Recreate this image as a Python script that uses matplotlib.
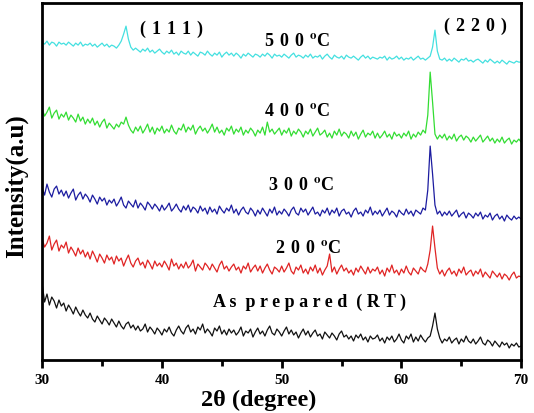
import numpy as np
import matplotlib
matplotlib.use("Agg")
import matplotlib.pyplot as plt

# 2theta grid, 0.2 deg step from 30 to 70
two_theta = np.linspace(30, 70, 201)

rt = [76, 58, 66, 55, 63, 59, 52, 60, 54, 57,
      49, 55, 51, 46, 53, 48, 44, 50, 45, 42,
      47, 41, 38, 44, 40, 36, 42, 39, 35, 41,
      37, 33, 39, 34, 31, 36, 38, 32, 35, 30,
      34, 29, 31, 36, 28, 33, 30, 26, 32, 29,
      25, 31, 28, 33, 27, 24, 30, 34, 29, 26,
      32, 35, 28, 31, 26, 33, 30, 36, 27, 31,
      28, 24, 32, 29, 34, 26, 30, 25, 31, 27,
      30, 25, 28, 33, 24, 29, 27, 31, 23, 28,
      32, 26, 29, 24, 30, 34, 27, 25, 31, 28,
      24, 29, 33, 26, 30, 25, 28, 22, 27, 31,
      25, 29, 23, 27, 30, 24, 26, 21, 28, 25,
      22, 27, 24, 20, 26, 29, 23, 25, 21, 24,
      19, 25, 22, 26, 20, 23, 18, 24, 21, 22,
      25, 19, 22, 17, 23, 20, 24, 18, 21, 26,
      20, 17, 24, 21, 26, 18, 23, 19, 25, 21,
      18, 22, 24, 34, 47, 31, 22, 17, 21, 19,
      23, 17, 20, 22, 16, 21, 18, 24, 19, 17,
      21, 16, 19, 23, 17, 15, 20, 18, 14, 19,
      16, 13, 18, 15, 17, 12, 16, 14, 17, 13,
      14]

t200 = [121, 113, 117, 124, 110, 116, 120, 109, 115, 112,
        118, 107, 113, 109, 104, 112, 106, 110, 103, 108,
        101, 109, 104, 98, 106, 102, 97, 105, 100, 103,
        96, 104, 99, 102, 94, 100, 105, 97, 93, 99,
        102, 95, 98, 92, 100, 96, 91, 99, 94, 97,
        93, 99, 95, 90, 101, 94, 97, 91, 96, 92,
        98, 92, 95, 100, 89, 96, 93, 90, 97, 94,
        90, 96, 92, 88, 95, 99, 91, 94, 89, 93,
        96, 90, 93, 87, 94, 91, 97, 88, 92, 95,
        89, 94, 87, 92, 96, 90, 86, 93, 91, 88,
        94, 88, 92, 97, 89, 86, 93, 90, 95, 87,
        91, 86, 93, 89, 95, 87, 92, 85, 90, 94,
        106, 88, 93, 86, 91, 95, 89, 92, 87, 90,
        85, 92, 88, 94, 90, 86, 93, 87, 91, 89,
        93, 86, 90, 84, 92, 88, 95, 87, 90, 85,
        91, 87, 94, 88, 85, 92, 89, 86, 93, 90,
        88, 96, 110, 134, 112, 92, 86, 90, 84, 89,
        92, 86, 89, 84, 91, 87, 93, 85, 88, 90,
        84, 89, 86, 91, 83, 88, 85, 82, 89, 86,
        83, 87, 81, 86, 84, 80, 85, 88, 82, 84,
        83]

t300 = [172, 165, 176, 168, 163, 171, 174, 166, 170, 164,
        169, 162, 167, 171, 160, 165, 168, 161, 166, 163,
        158, 165, 161, 156, 163, 159, 162, 155, 160, 157,
        161, 154, 158, 163, 155, 152, 159, 156, 153, 160,
        152, 157, 154, 150, 158, 155, 151, 156, 153, 149,
        155, 150, 153, 157, 149, 152, 156, 151, 148, 154,
        150, 155, 148, 153, 151, 147, 154, 149, 152, 146,
        153, 148, 151, 146, 154, 150, 147, 152, 149, 155,
        147, 151, 145, 150, 153, 148, 146, 152, 149, 144,
        150, 146, 152, 148, 144, 151, 147, 153, 145, 149,
        146, 151, 148, 144, 150, 153, 147, 145, 152, 148,
        151, 145, 149, 153, 146, 148, 144, 150, 147, 152,
        145, 150, 147, 152, 144, 149, 151, 146, 148, 143,
        149, 152, 146, 148, 144, 150, 147, 153, 145, 149,
        146, 150, 144, 148, 152, 145, 149, 147, 143, 150,
        147, 145, 151, 146, 149, 144, 150, 148, 146, 152,
        150, 170, 214, 186, 155, 146, 149, 144, 148, 145,
        149, 144, 147, 150, 143, 146, 148, 142, 147, 145,
        142, 147, 144, 148, 141, 145, 143, 147, 140, 144,
        146, 141, 144, 139, 145, 142, 140, 144, 141, 143,
        141]

t400 = [251, 244, 248, 253, 242, 247, 250, 241, 246, 243,
        248, 240, 245, 242, 238, 246, 239, 243, 236, 241,
        237, 242, 235, 239, 233, 238, 241, 232, 237, 234,
        231, 236, 233, 238, 236, 243, 235, 230, 227, 233,
        229, 234, 227, 231, 236, 228, 233, 226, 232, 229,
        234, 227, 231, 228, 235, 229, 226, 232, 230, 236,
        228, 233, 230, 235, 226, 231, 234, 229, 232, 227,
        231, 236, 228, 233, 227, 230, 225, 232, 229, 234,
        226, 231, 228, 233, 225, 230, 227, 232, 229, 224,
        230, 227, 233, 225, 238, 228, 231, 226, 229, 232,
        225, 230, 227, 232, 224, 229, 226, 231, 228, 223,
        229, 226, 231, 224, 228, 232, 225, 227, 230, 223,
        227, 222, 229, 225, 231, 224, 228, 226, 222, 229,
        224, 228, 221, 226, 230, 223, 227, 225, 229, 222,
        227, 222, 225, 229, 223, 226, 221, 228, 224, 226,
        222, 227, 224, 229, 221, 226, 223, 228, 225, 230,
        227, 245, 288, 258, 226, 221, 225, 222, 226, 220,
        224, 221, 226, 219, 223, 225, 220, 224, 222, 218,
        223, 219, 222, 225, 218, 221, 224, 219, 222, 217,
        221, 218, 223, 217, 220, 222, 216, 220, 218, 221,
        218]

t500 = [318, 316, 319, 315, 318, 317, 314, 318, 316, 317,
        315, 318, 316, 314, 317, 315, 318, 314, 316, 315,
        317, 314, 316, 313, 315, 317, 314, 316, 313, 315,
        314, 312, 315, 319, 326, 334, 321, 313, 310, 312,
        310, 308, 311, 309, 312, 308, 310, 307, 309, 311,
        308, 306, 309, 307, 310, 306, 308, 305, 309, 307,
        306, 309, 305, 308, 306, 304, 308, 307, 305, 309,
        306, 304, 307, 305, 308, 303, 306, 308, 305, 307,
        304, 307, 305, 302, 306, 304, 307, 305, 303, 306,
        305, 303, 306, 304, 307, 305, 302, 306, 304, 305,
        303, 306, 304, 302, 305, 307, 303, 305, 304, 302,
        305, 303, 306, 302, 304, 303, 305, 301, 304, 306,
        303, 301, 305, 303, 302, 304, 301, 305, 303, 302,
        304, 302, 300, 303, 305, 302, 304, 301, 303, 302,
        301, 303, 302, 304, 300, 303, 301, 302, 304, 301,
        303, 300, 302, 301, 303, 300, 302, 304, 301, 302,
        300, 302, 304, 313, 330, 309, 301, 300, 302, 299,
        301, 299, 302, 300, 298, 301, 300, 302, 299, 300,
        298, 300, 301, 299, 297, 300, 298, 301, 299, 297,
        299, 297, 300, 298, 296, 299, 298, 297, 299, 298,
        298]

series = [rt, t200, t300, t400, t500]
colors = ['#111111', '#e02424', '#1c1ca0', '#33dd33', '#44e0e0']
temps = ['200', '300', '400', '500']


def spaced(s):
    return '\u2004'.join(s)


plt.rcParams['font.family'] = ['Liberation Serif', 'DejaVu Serif']
plt.rcParams['font.weight'] = 'bold'
plt.rcParams['mathtext.fontset'] = 'stix'

fig = plt.figure(figsize=(5.34, 4.14), dpi=100)
ax = fig.add_axes([0.079, 0.128, 0.897, 0.862])

for y, c in zip(series, colors):
    ax.plot(two_theta, y, color=c, lw=0.9)

ax.set_xlim(30, 70)
ax.set_ylim(0, 357)
ax.set_yticks([])
ax.set_xticks([30, 40, 50, 60, 70])
ax.set_xticks([35, 45, 55, 65], minor=True)
ax.tick_params(axis='x', which='major', labelsize=11, length=6, width=2,
               direction='out', pad=3)
ax.tick_params(axis='x', which='minor', length=4, width=2, direction='out')
for s in ax.spines.values():
    s.set_linewidth(2)

ax.set_xlabel('2\u03b8 (degree)', fontsize=17.5, fontweight='bold')
ax.xaxis.set_label_coords(0.453, -0.082)
ax.set_ylabel('Intensity(a.u)', fontsize=18, fontweight='bold')
ax.yaxis.set_label_coords(-0.03, 0.49)

txt = dict(ha='center', va='center', fontsize=13, fontweight='bold')
sup = '$^{\\mathbf{o}}$'
ax.text(52.3, 59, 'A s  p r e p a r e d  ( R T )', **txt)
for t, xx, yy in zip(temps, [52.2, 51.6, 51.3, 51.3], [113, 176, 250, 320]):
    ax.text(xx, yy, spaced(t) + '\u2004' + sup + 'C', **txt)
ax.text(40.8, 332, spaced('(111)'), **txt)
ax.text(66.2, 335, spaced('(220)'), **txt)

fig.savefig('out.png', dpi=100)
